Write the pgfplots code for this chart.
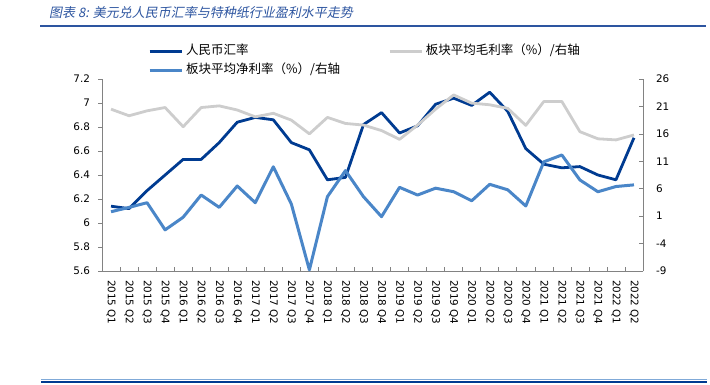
\documentclass[border=0pt]{standalone}
\usepackage{pgfplots}
\pgfplotsset{compat=1.18}
\usepackage{fontspec}
\setmainfont{DejaVu Sans}
\newfontfamily\cjk{Noto Sans CJK SC}
\newfontfamily\cjktitle[FakeSlant=0.2]{Noto Sans CJK SC}
\definecolor{rmb}{RGB}{0,59,145}
\definecolor{netc}{RGB}{74,134,200}
\definecolor{grossc}{RGB}{205,205,205}
\definecolor{titleblue}{RGB}{45,85,160}
\definecolor{axisgray}{RGB}{130,130,130}
\begin{document}
\begin{tikzpicture}
\path (0pt,0pt) rectangle (710pt,384pt);
\node[anchor=west, text=titleblue, font=\cjktitle\fontsize{13}{13}\selectfont, inner sep=0pt] at (49pt,371pt) {图表 8: 美元兑人民币汇率与特种纸行业盈利水平走势};
\draw[titleblue, line width=1.2pt] (40pt,358pt) -- (706pt,358pt);
\draw[netc!70, line width=0.8pt] (41pt,4.5pt) -- (707pt,4.5pt);
\draw[rmb, line width=2pt] (41pt,2.5pt) -- (707pt,2.5pt);
\begin{axis}[
  at={(102pt,113pt)}, anchor=south west,
  scale only axis, width=541pt, height=192pt,
  xmin=-0.5, xmax=29.5, ymin=5.6, ymax=7.2,
  axis x line*=bottom, axis y line*=left,
  axis line style={axisgray, line width=0.8pt},
  tick style={axisgray, line width=0.6pt},
  tick align=inside,
  xtick={0,...,29}, major x tick style={draw=none},
  minor xtick={-0.5,0.5,...,29.5}, minor tick length=4pt,
  xticklabels={2015 Q1,2015 Q2,2015 Q3,2015 Q4,2016 Q1,2016 Q2,2016 Q3,2016 Q4,2017 Q1,2017 Q2,2017 Q3,2017 Q4,2018 Q1,2018 Q2,2018 Q3,2018 Q4,2019 Q1,2019 Q2,2019 Q3,2019 Q4,2020 Q1,2020 Q2,2020 Q3,2020 Q4,2021 Q1,2021 Q2,2021 Q3,2021 Q4,2022 Q1,2022 Q2},
  xticklabel style={rotate=-90, anchor=west, font=\fontsize{10.4}{12}\selectfont},
  xticklabel shift=5.5pt,
  ytick={5.6,5.8,6,6.2,6.4,6.6,6.8,7,7.2},
  major y tick style={xshift=-4pt}, major tick length=4pt,
  yticklabel style={font=\fontsize{10.4}{12}\selectfont},
  yticklabel shift=8.5pt,
  /pgf/number format/assume math mode=true,
  /pgf/number format/fixed,
  line join=round,
]
\addplot[rmb, line width=2.8pt] coordinates {
(0,6.14) (1,6.12) (2,6.27) (3,6.40) (4,6.53) (5,6.53) (6,6.67) (7,6.84) (8,6.88) (9,6.86)
(10,6.67) (11,6.61) (12,6.36) (13,6.38) (14,6.82) (15,6.92) (16,6.75) (17,6.81) (18,6.99) (19,7.04)
(20,6.98) (21,7.09) (22,6.93) (23,6.62) (24,6.49) (25,6.46) (26,6.47) (27,6.40) (28,6.36) (29,6.71)};
\end{axis}
\begin{axis}[
  at={(102pt,113pt)}, anchor=south west,
  scale only axis, width=541pt, height=192pt,
  xmin=-0.5, xmax=29.5, ymin=-9, ymax=26,
  axis x line=none, axis y line*=right,
  axis line style={axisgray, line width=0.8pt},
  tick style={axisgray, line width=0.6pt},
  tick align=inside, major tick length=4pt,
  ytick={-9,-4,1,6,11,16,21,26},
  yticklabel style={font=\fontsize{10.4}{12}\selectfont},
  yticklabel shift=9.5pt,
  /pgf/number format/assume math mode=true,
  line join=round,
  legend columns=2,
  legend image code/.code={\draw[#1] (0pt,0pt) -- (32pt,0pt);},
  legend style={at={(0.085,1.177)}, anchor=north west, draw=none, fill=none, inner sep=0pt,
    font=\cjk\fontsize{12.5}{14}\selectfont,
    nodes={inner sep=0pt, text height=9pt, text depth=3pt},
    cells={anchor=west}, row sep=7pt,
    /tikz/every odd column/.append style={column sep=3pt},
    /tikz/every even column/.append style={column sep=48pt}},
]
\addlegendimage{rmb, line width=2.8pt}
\addlegendentry{人民币汇率}
\addplot[grossc, line width=2.8pt] coordinates {
(0,20.5) (1,19.3) (2,20.2) (3,20.8) (4,17.3) (5,20.8) (6,21.1) (7,20.35) (8,19.1) (9,19.75)
(10,18.5) (11,16.0) (12,19.0) (13,17.9) (14,17.6) (15,16.6) (16,15.0) (17,17.6) (18,20.5) (19,23.1)
(20,21.6) (21,21.3) (22,20.65) (23,17.55) (24,21.9) (25,21.9) (26,16.4) (27,15.1) (28,14.9) (29,15.8)};
\addlegendentry{板块平均毛利率（\%）/右轴}
\addplot[netc, line width=3pt] coordinates {
(0,1.8) (1,2.6) (2,3.45) (3,-1.5) (4,0.8) (5,4.85) (6,2.6) (7,6.5) (8,3.45) (9,10.0)
(10,3.2) (11,-8.8) (12,4.55) (13,9.3) (14,4.55) (15,0.9) (16,6.25) (17,4.85) (18,6.1) (19,5.45)
(20,3.8) (21,6.8) (22,5.8) (23,2.85) (24,10.9) (25,12.15) (26,7.6) (27,5.45) (28,6.4) (29,6.7)};
\addlegendentry{板块平均净利率（\%）/右轴}
\end{axis}
\end{tikzpicture}
\end{document}
